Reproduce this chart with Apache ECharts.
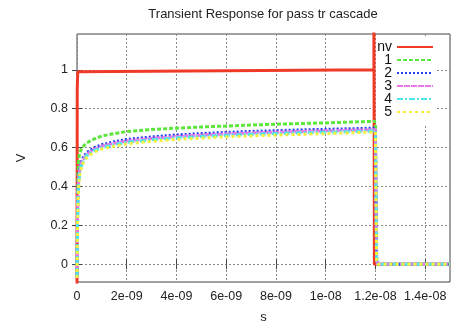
<!DOCTYPE html>
<html>
<head>
<meta charset="utf-8">
<script src="https://cdn.jsdelivr.net/npm/echarts@6/dist/echarts.min.js"></script>
<style>html,body{margin:0;padding:0;background:#fff}#c{width:454px;height:329px}</style>
</head>
<body>
<div id="c"></div>
<script>
// ---- data ----
const seriesNames = ['nv', '1', '2', '3', '4', '5'];
const xTicks = [0, 2e-9, 4e-9, 6e-9, 8e-9, 1e-8, 1.2e-8, 1.4e-8];
const yTicks = [0, 0.2, 0.4, 0.6, 0.8, 1];

const nvTime = [0, 1e-11, 3e-11, 8e-11, 1.194e-8, 1.194e-8, 1.196e-8, 1.5e-8];
const nvVal  = [-0.15, 0.9, 0.99, 1, 1, 1.3, 0, 0];

const outTime = [0, 2e-11, 5e-11, 1e-10, 2e-10, 4e-10, 7e-10, 1e-9, 1.5e-9, 2e-9, 3e-9, 4e-9, 5e-9, 6e-9, 7e-9, 8e-9, 9e-9, 1e-8, 1.1e-8, 1.2e-8, 1.205e-8, 1.21e-8, 1.3e-8, 1.4e-8, 1.5e-8];
const out1 = [-0.07, 0.35, 0.52, 0.57, 0.60, 0.625, 0.645, 0.66, 0.672, 0.682, 0.693, 0.70, 0.706, 0.711, 0.716, 0.72, 0.724, 0.727, 0.731, 0.735, 0.02, 0, 0, 0, 0];
const out2 = [-0.07, 0.25, 0.42, 0.49, 0.54, 0.575, 0.60, 0.615, 0.63, 0.642, 0.655, 0.665, 0.672, 0.678, 0.683, 0.687, 0.691, 0.694, 0.697, 0.70, 0.02, 0, 0, 0, 0];
const out3 = [-0.07, 0.22, 0.40, 0.48, 0.53, 0.567, 0.592, 0.607, 0.622, 0.634, 0.647, 0.657, 0.664, 0.67, 0.675, 0.679, 0.683, 0.686, 0.689, 0.692, 0.02, 0, 0, 0, 0];
const out4 = [-0.07, 0.20, 0.38, 0.465, 0.52, 0.56, 0.585, 0.60, 0.615, 0.627, 0.64, 0.65, 0.657, 0.663, 0.668, 0.672, 0.676, 0.679, 0.682, 0.685, 0.02, 0, 0, 0, 0];
const out5 = [-0.07, 0.18, 0.36, 0.45, 0.51, 0.55, 0.577, 0.593, 0.607, 0.619, 0.632, 0.642, 0.649, 0.655, 0.66, 0.664, 0.668, 0.672, 0.676, 0.68, 0.02, 0, 0, 0, 0];

// ---- styles ----
const colors = ['#f03a28', '#5ce63c', '#1f3ff0', '#e878e8', '#4ee6ee', '#f5f03c'];
const dashes = ['solid', [4, 2], [2, 2], [6, 1], [6, 2, 2, 2], [3, 3]];

function pairs(t, v) { return t.map((x, i) => [x, v[i]]); }
const allData = [pairs(nvTime, nvVal), pairs(outTime, out1), pairs(outTime, out2), pairs(outTime, out3), pairs(outTime, out4), pairs(outTime, out5)];

function fmtX(v) {
  if (Math.abs(v) < 1e-20) return '0';
  const e = Math.floor(Math.log10(v) + 1e-9);
  const m = Math.round(v / Math.pow(10, e) * 1e6) / 1e6;
  const ae = Math.abs(e);
  return m + 'e' + (e < 0 ? '-' : '+') + (ae < 10 ? '0' + ae : ae);
}
function fmtY(v) { return String(Math.round(v * 1e6) / 1e6); }

const FONT = 'Liberation Sans';
const BORDER = '#444';
const GRID = { color: '#8a8a8a', width: 1, type: [2, 2] };

const chart = echarts.init(document.getElementById('c'), null, { renderer: 'canvas' });
chart.setOption({
  animation: false,
  backgroundColor: '#fff',
  textStyle: { fontFamily: FONT },
  title: {
    text: 'Transient Response for pass tr cascade',
    left: 263, top: 8, textAlign: 'center', padding: 0,
    textStyle: { fontFamily: FONT, fontSize: 13, fontWeight: 'normal', color: '#222' }
  },
  grid: { left: 77, right: 4, top: 34, bottom: 43, show: true, borderColor: BORDER, borderWidth: 1, backgroundColor: 'transparent' },
  legend: {
    data: seriesNames,
    orient: 'vertical', align: 'right',
    right: 18, top: 38,
    itemWidth: 36, itemHeight: 10, itemGap: -1,
    padding: [2, 2, 6, 1],
    backgroundColor: '#fff',
    itemStyle: { color: 'transparent', borderWidth: 0, opacity: 0 },
    textStyle: { fontFamily: FONT, fontSize: 14, color: '#111', lineHeight: 14 },
    z: 10
  },
  xAxis: [{
    type: 'value', min: 0, max: 1.5e-8,
    name: 's', nameLocation: 'middle', nameGap: 29,
    nameTextStyle: { fontFamily: FONT, fontSize: 13, color: '#222' },
    axisLine: { show: false },
    axisTick: { show: true, inside: true, length: 5, lineStyle: { color: BORDER }, customValues: xTicks },
    axisLabel: { color: '#222', fontSize: 12.5, margin: 8, formatter: fmtX, customValues: xTicks },
    splitLine: { show: true, lineStyle: GRID }
  }, {
    type: 'value', min: 0, max: 1.5e-8, position: 'top',
    axisLine: { show: false },
    axisTick: { show: true, inside: true, length: 5, lineStyle: { color: BORDER }, customValues: xTicks },
    axisLabel: { show: false },
    splitLine: { show: false }
  }],
  yAxis: [{
    type: 'value', min: -0.091, max: 1.184,
    name: 'V', nameLocation: 'middle', nameGap: 49, nameRotate: 90,
    nameTextStyle: { fontFamily: FONT, fontSize: 13, color: '#222' },
    axisLine: { show: false },
    axisTick: { show: true, inside: true, length: 5, lineStyle: { color: BORDER }, customValues: yTicks },
    axisLabel: { color: '#222', fontSize: 12.5, margin: 9, formatter: fmtY, customValues: yTicks },
    splitLine: { show: true, lineStyle: GRID }
  }, {
    type: 'value', min: -0.091, max: 1.184, position: 'right',
    axisLine: { show: false },
    axisTick: { show: true, inside: true, length: 5, lineStyle: { color: BORDER }, customValues: yTicks },
    axisLabel: { show: false },
    splitLine: { show: false }
  }],
  series: seriesNames.map((n, i) => ({
    name: n, type: 'line', data: allData[i],
    xAxisIndex: 0, yAxisIndex: 0,
    showSymbol: false, symbol: 'none', smooth: false, clip: true,
    lineStyle: { color: colors[i], width: 3, type: dashes[i] },
    itemStyle: { color: colors[i] },
    z: 2 + i
  }))
});
</script>
</body>
</html>
